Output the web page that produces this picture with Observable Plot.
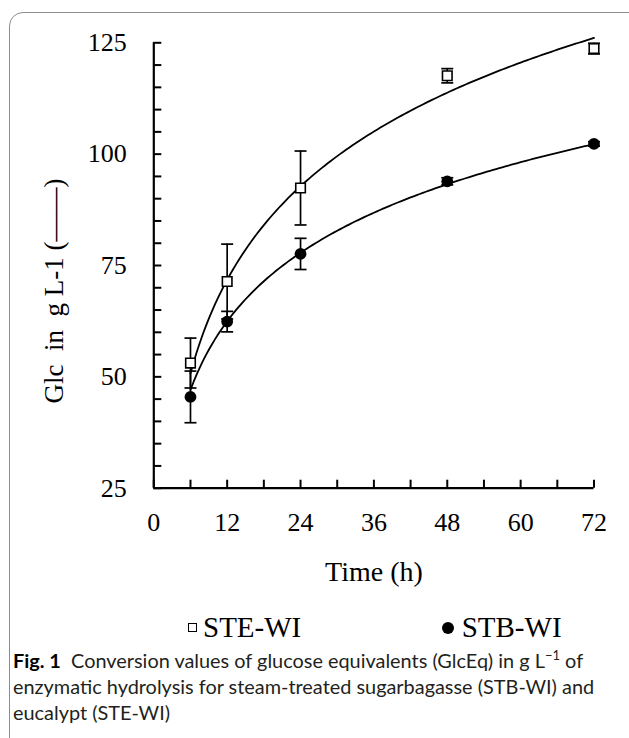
<!DOCTYPE html>
<html>
<head>
<meta charset="utf-8">
<script src="https://cdn.jsdelivr.net/npm/d3@7"></script>
<script src="https://cdn.jsdelivr.net/npm/@observablehq/plot@0.6"></script>
<style>
html, body { margin: 0; padding: 0; background: #fff; overflow: hidden; }
#wrap { position: relative; width: 629px; height: 738px; overflow: hidden; }
#frame { position: absolute; left: 9px; top: 12px; width: 700px; height: 800px; border: 1px solid #8c8c8c; border-radius: 14px; box-sizing: border-box; }
#chart { position: absolute; left: 0; top: 0; }
#chart svg text { white-space: pre; }
#legend { position: absolute; left: 0; top: 0; width: 629px; height: 738px; pointer-events: none; }
.lt { position: absolute; font-family: "Liberation Serif", "Times New Roman", serif; font-size: 29px; line-height: 29px; color: #000; white-space: nowrap; }
.sq { position: absolute; width: 8.6px; height: 8.6px; border: 1.5px solid #000; box-sizing: border-box; background: #fff; }
.ci { position: absolute; width: 12px; height: 12px; border-radius: 50%; background: #000; }
#caption { position: absolute; left: 13px; top: 647px; font-family: Lato, "Noto Sans", sans-serif; font-size: 19.9px; line-height: 26px; color: #231f20; white-space: nowrap; }
#caption b { font-weight: 700; color: #000; }
#caption sup { font-size: 13px; line-height: 0; vertical-align: 8px; }
</style>
</head>
<body>
<div id="wrap">
  <div id="frame"></div>
  <div id="chart"></div>
  <div id="legend"></div>
  <div id="caption"></div>
</div>
<script>
// ---- data ----
const series = ["STE-WI", "STB-WI"];
const times = [6, 12, 24, 48, 72];
const steMean = [53.1, 71.4, 92.4, 117.6, 123.7];
const steErr  = [5.6, 8.4, 8.3, 1.6, 1.2];
const stbMean = [45.5, 62.4, 77.6, 93.9, 102.3];
const stbErr  = [5.8, 2.3, 3.5, 0.8, 0.5];
// logarithmic trendlines (y = a ln t + b)
const trendSlope = [30.3, 22.2];
const trendIntercept = [-3.5, 7.3];
const trendRange = [6, 72];
const xMajor = [0, 12, 24, 36, 48, 60, 72];
const xMinor = [0, 6, 12, 18, 24, 30, 36, 42, 48, 54, 60, 66, 72];
const yMajor = [25, 50, 75, 100, 125];
const yMinor = [25, 30, 35, 40, 45, 50, 55, 60, 65, 70, 75, 80, 85, 90, 95, 100, 105, 110, 115, 120, 125];
const xLabel = "Time (h)";
const yLabel = "Glc  in  g L-1 (——)";

// ---- build tables ----
const ste = times.map((t, i) => ({t, v: steMean[i], lo: steMean[i] - steErr[i], hi: steMean[i] + steErr[i]}));
const stb = times.map((t, i) => ({t, v: stbMean[i], lo: stbMean[i] - stbErr[i], hi: stbMean[i] + stbErr[i]}));
const fitT = d3.range(trendRange[0], trendRange[1] + 0.001, 0.5);
const steCurve = fitT.map(t => ({t, v: trendSlope[0] * Math.log(t) + trendIntercept[0]}));
const stbCurve = fitT.map(t => ({t, v: trendSlope[1] * Math.log(t) + trendIntercept[1]}));
const capsOf = d => d.flatMap(p => [{t: p.t, v: p.lo}, {t: p.t, v: p.hi}]);

// horizontal cap symbol for error bars
const capSymbol = {
  draw(context, size) {
    const w = Math.sqrt(size / Math.PI);
    context.moveTo(-w, 0);
    context.lineTo(w, 0);
  }
};

const W = 629, H = 605;
const chart = Plot.plot({
  width: W,
  height: H,
  marginLeft: 153.3,
  marginRight: 35.5,
  marginTop: 42.3,
  marginBottom: H - 487.7,
  x: {domain: [0, 72], label: null},
  y: {domain: [25, 125], label: null},
  style: {fontFamily: "'Liberation Serif', 'Times New Roman', serif", fontSize: "26px", color: "#000", background: "transparent", overflow: "visible"},
  marks: [
    Plot.axisY(yMinor, {anchor: "left", tickSize: -8, tickFormat: () => "", strokeWidth: 2, label: null}),
    Plot.axisY(yMajor, {anchor: "left", tickSize: 0, tickPadding: 27, fontSize: 26, label: null}),
    Plot.axisX(xMinor, {anchor: "bottom", tickSize: -8, tickFormat: () => "", strokeWidth: 2, label: null}),
    Plot.axisX(xMajor, {anchor: "bottom", tickSize: 0, tickPadding: 24, fontSize: 26, label: null}),
    Plot.ruleX([0], {stroke: "#000", strokeWidth: 2.2}),
    Plot.ruleY([25], {stroke: "#000", strokeWidth: 2.2}),
    Plot.line(steCurve, {x: "t", y: "v", stroke: "#000", strokeWidth: 1.8}),
    Plot.line(stbCurve, {x: "t", y: "v", stroke: "#000", strokeWidth: 1.8}),
    Plot.ruleX(ste, {x: "t", y1: "lo", y2: "hi", stroke: "#000", strokeWidth: 1.7}),
    Plot.ruleX(stb, {x: "t", y1: "lo", y2: "hi", stroke: "#000", strokeWidth: 1.7}),
    Plot.dot(ste, {x: "t", y: "v", symbol: "square", r: 5.4, fill: "#fff", stroke: "#000", strokeWidth: 1.6}),
    Plot.dot(stb, {x: "t", y: "v", symbol: "circle", r: 5.9, fill: "#000", stroke: "none"}),
    Plot.dot(capsOf(ste), {x: "t", y: "v", symbol: capSymbol, r: 6, fill: "none", stroke: "#000", strokeWidth: 1.7}),
    Plot.dot(capsOf(stb), {x: "t", y: "v", symbol: capSymbol, r: 6, fill: "none", stroke: "#000", strokeWidth: 1.7}),
    Plot.text([yLabel], {frameAnchor: "left", rotate: -90, dx: -91.3, dy: 25.5, textAnchor: "middle", lineAnchor: "bottom", fontSize: 27}),
    Plot.text([xLabel], {frameAnchor: "bottom", dy: 93, lineAnchor: "bottom", fontSize: 28})
  ]
});
document.getElementById("chart").appendChild(chart);

// ---- legend (below the plot) ----
const legend = document.getElementById("legend");
const legendPos = [
  {marker: "sq", mx: 188.3, my: 623.4, tx: 203},
  {marker: "ci", mx: 441.7, my: 621.5, tx: 461.7}
];
series.forEach((name, i) => {
  const p = legendPos[i];
  const m = document.createElement("span");
  m.className = p.marker;
  m.style.left = p.mx + "px";
  m.style.top = p.my + "px";
  legend.appendChild(m);
  const t = document.createElement("span");
  t.className = "lt";
  t.textContent = name;
  t.style.left = p.tx + "px";
  t.style.top = "613px";
  legend.appendChild(t);
});

// ---- caption ----
document.getElementById("caption").innerHTML =
  "<b>Fig. 1</b>&nbsp; Conversion values of glucose equivalents (GlcEq) in g L<sup>−1</sup> of<br>" +
  "enzymatic hydrolysis for steam-treated sugarbagasse (" + series[1] + ") and<br>" +
  "eucalypt (" + series[0] + ")";
</script>
</body>
</html>
